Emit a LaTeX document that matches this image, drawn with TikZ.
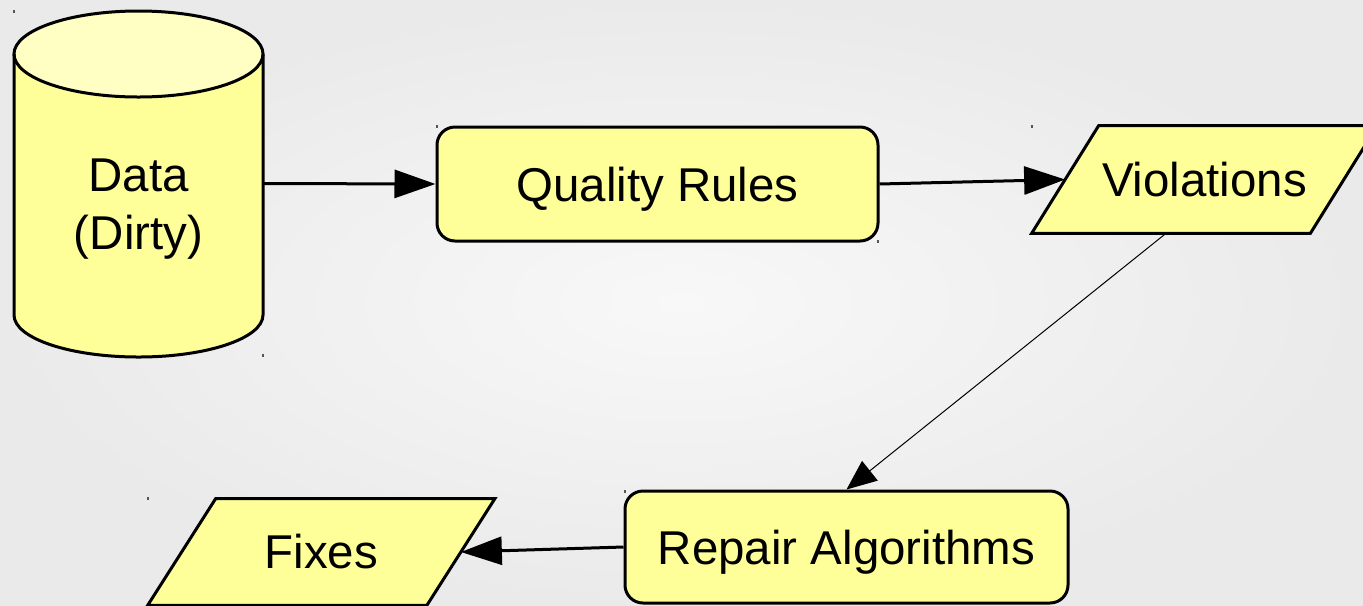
\documentclass[tikz,border=0pt]{standalone}
\usepackage{fontspec}
\setmainfont{Liberation Sans}
\usetikzlibrary{arrows.meta,calc}

\definecolor{boxfill}{HTML}{FFFF99}
\definecolor{capfill}{HTML}{FFFFC4}
\definecolor{bgin}{HTML}{F8F8F8}
\definecolor{bgout}{HTML}{EAEAEA}
\definecolor{tick}{HTML}{555555}

\pgfdeclarelayer{paper}
\pgfdeclarelayer{shapes}
\pgfsetlayers{paper,shapes,main}

\tikzset{
  px/.style={x=0.2mm,y=-0.2mm},
  label text/.style={font=\fontsize{27}{33}\selectfont, align=center},
  outline/.style={draw, line width=0.6mm, fill=boxfill},
  stepbox/.style={outline, rounded corners=3.6mm,
    inner sep=0pt, text depth=0pt, label text},
  iobox/.style={inner sep=0pt, label text},
  flow/.style={line width=0.6mm, -{Triangle[length=8.2mm,width=5.6mm]}},
  thinflow/.style={line width=0.2mm, -{Triangle[length=6mm,width=5mm]}},
  corner tick/.style={draw=tick, line width=0.25mm},
}

% parallelogram drawn behind an io node; #2 = half of the horizontal slant
\newcommand\ioframe[2]{%
  \begin{pgfonlayer}{shapes}
    \path[outline] ($(#1.south west)-(#2,0)$) -- ($(#1.north west)+(#2,0)$)
      -- ($(#1.north east)+(#2,0)$) -- ($(#1.south east)-(#2,0)$) -- cycle;
  \end{pgfonlayer}}

\begin{document}
\begin{tikzpicture}[px]
  % page background
  \useasboundingbox (0,0) rectangle (1363,605);
  \begin{pgfonlayer}{paper}
    \shade[inner color=bgin, outer color=bgout] (0,0) rectangle (1363,605);
  \end{pgfonlayer}

  % database cylinder
  \fill[boxfill] (14,54) -- (14,315) arc[start angle=180,end angle=0,x radius=124.5,y radius=42]
    -- (263,54) -- cycle;
  \fill[capfill] (138.5,54) ellipse [x radius=124.5, y radius=43];
  \draw[line width=0.6mm] (14,54) -- (14,315) arc[start angle=180,end angle=0,x radius=124.5,y radius=42]
    -- (263,54);
  \draw[line width=0.6mm] (138.5,54) ellipse [x radius=124.5, y radius=43];
  \node[minimum width=49.8mm, minimum height=69.4mm, inner sep=0pt] (data) at (138.5,183.5) {};
  \node[label text] (datatext) at (138.5,209) {Data\\(Dirty)};

  % process and data nodes
  \node[stepbox, minimum width=88.2mm, minimum height=22.8mm] (rules) at (657.5,184) {Quality Rules};
  \node[iobox, minimum width=55.6mm, minimum height=21.4mm] (viol) at (1204.5,179.5) {Violations};
  \ioframe{viol}{33.5}
  \node[stepbox, minimum width=88.6mm, minimum height=22.4mm] (repair) at (846.5,547) {Repair Algorithms};
  \node[iobox, minimum width=55.7mm, minimum height=21.2mm] (fixes) at (321.25,552) {Fixes};
  \ioframe{fixes}{34}

  % connectors
  \draw[flow] (data.east) -- (rules.west);
  \draw[flow] (rules.east) -- (viol.west);
  \draw[thinflow] ([xshift=-7.7mm]viol.south) -- (repair.north);
  \draw[flow] (repair.west) -- (fixes.east);

  % small corner marks
  \foreach \x/\y in {14/10, 263/354, 437/125, 878/240, 1032/125, 148/497, 625/490}
    \path[corner tick] (\x,\y) -- ++(0,3);
\end{tikzpicture}
\end{document}
